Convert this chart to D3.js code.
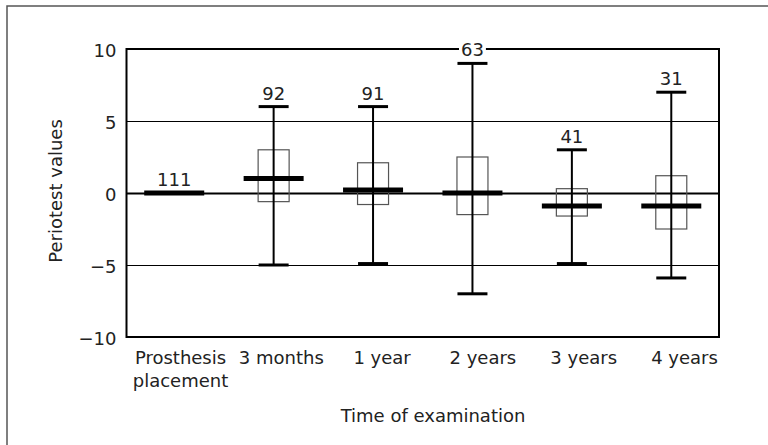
<!DOCTYPE html>
<html>
<head>
<meta charset="utf-8">
<script src="https://cdn.jsdelivr.net/npm/d3@7"></script>
<style>
  body { margin: 0; background: #fff; }
  svg { display: block; }
</style>
</head>
<body>
<svg id="chart" width="768" height="445"></svg>
<script>
// Periotest values by time of examination

var categories = ["Prosthesis\nplacement", "3 months", "1 year", "2 years", "3 years", "4 years"];
var counts = [111, 92, 91, 63, 41, 31];
var medians = [0, 1, 0.2, 0, -0.9, -0.9];
var boxLow = [0, -0.6, -0.8, -1.5, -1.6, -2.5];
var boxHigh = [0, 3, 2.1, 2.5, 0.3, 1.2];
var whiskerLow = [0, -5, -4.9, -7, -4.9, -5.9];
var whiskerHigh = [0, 6, 6, 9, 3, 7];
var yTicks = [-10, -5, 0, 5, 10];
var gridTicks = [-5, 0, 5];

var FONT = "'DejaVu Sans', sans-serif";
var INK = "#222";

var rows = categories.map(function (c, i) {
  return {
    cat: c, n: counts[i], med: medians[i],
    q1: boxLow[i], q3: boxHigh[i],
    lo: whiskerLow[i], hi: whiskerHigh[i]
  };
});

var svg = d3.select("#chart");
var margin = {top: 49, right: 49, bottom: 108, left: 126.5};
var width = 768 - margin.left - margin.right;
var height = 445 - margin.top - margin.bottom;

var x = d3.scalePoint().domain(categories).range([0, width]).padding(0.48);
// tick labels sit a little right of the boxes in the original
var xLabel = d3.scalePoint().domain(categories).range([53.5, 557.5]);
var y = d3.scaleLinear().domain([-10, 10]).range([height, 0]);

svg.append("rect").attr("width", 768).attr("height", 445).attr("fill", "#fff");

// outer figure frame (top + left edges only)
svg.append("path")
  .attr("d", "M7,445V6H768")
  .attr("fill", "none")
  .attr("stroke", "#555")
  .attr("stroke-width", 1.5);

var g = svg.append("g")
  .attr("transform", "translate(" + margin.left + "," + margin.top + ")");

///////////////////////////////////////////////////////////////////////////////
// Grid lines

var grid = g.append("g")
  .call(d3.axisLeft(y).tickValues(gridTicks).tickSize(-width).tickFormat(""));
grid.select(".domain").remove();
grid.selectAll(".tick line")
  .attr("stroke", "#000")
  .attr("stroke-width", function (d) { return d === 0 ? 1.8 : 1; });

///////////////////////////////////////////////////////////////////////////////
// Boxes and whiskers

var boxW = 31, capW = 30, medW = 60;

var items = g.selectAll(".item").data(rows).enter().append("g")
  .attr("class", "item")
  .attr("transform", function (d) { return "translate(" + x(d.cat) + ",0)"; });

items.append("rect")
  .attr("x", -boxW / 2)
  .attr("y", function (d) { return y(d.q3); })
  .attr("width", boxW)
  .attr("height", function (d) { return y(d.q1) - y(d.q3); })
  .attr("fill", "none")
  .attr("stroke", "#555")
  .attr("stroke-width", 1.2);

items.append("line")
  .attr("y1", function (d) { return y(d.hi); })
  .attr("y2", function (d) { return y(d.lo); })
  .attr("stroke", "#000")
  .attr("stroke-width", 2);

items.selectAll(".cap")
  .data(function (d) { return [d.hi, d.lo]; })
  .enter().append("line")
  .attr("class", "cap")
  .attr("x1", -capW / 2).attr("x2", capW / 2)
  .attr("y1", function (v) { return y(v); })
  .attr("y2", function (v) { return y(v); })
  .attr("stroke", "#000")
  .attr("stroke-width", 3);

items.append("line")
  .attr("x1", -medW / 2).attr("x2", medW / 2)
  .attr("y1", function (d) { return y(d.med); })
  .attr("y2", function (d) { return y(d.med); })
  .attr("stroke", "#000")
  .attr("stroke-width", 5);

// plot frame
g.append("rect")
  .attr("width", width)
  .attr("height", height)
  .attr("fill", "none")
  .attr("stroke", "#000")
  .attr("stroke-width", 2);

// sample sizes above each whisker, knocked out of the frame line
var labels = g.selectAll(".count").data(rows).enter().append("g")
  .attr("class", "count")
  .attr("transform", function (d) {
    return "translate(" + x(d.cat) + "," + (y(Math.max(d.hi, d.med)) - 7) + ")";
  });
labels.append("rect")
  .attr("fill", "#fff");
labels.append("text")
  .attr("text-anchor", "middle")
  .attr("font-family", FONT)
  .attr("font-size", 18)
  .attr("fill", INK)
  .text(function (d) { return d.n; });
labels.each(function () {
  var sel = d3.select(this);
  var b = sel.select("text").node().getBBox();
  sel.select("rect")
    .attr("x", b.x - 2).attr("y", b.y + 3)
    .attr("width", b.width + 4).attr("height", b.height - 6);
});

///////////////////////////////////////////////////////////////////////////////
// Axes

var yAxis = g.append("g")
  .call(d3.axisLeft(y).tickValues(yTicks).tickSize(0).tickPadding(10));
yAxis.select(".domain").remove();
yAxis.selectAll("text")
  .attr("font-family", FONT)
  .attr("font-size", 18)
  .attr("fill", INK)
  .attr("dy", "0.42em");

var xAxis = g.append("g")
  .attr("transform", "translate(0," + height + ")")
  .call(d3.axisBottom(xLabel).tickSize(0).tickFormat(""));
xAxis.select(".domain").remove();
xAxis.selectAll(".tick").append("text")
  .attr("text-anchor", "middle")
  .attr("font-family", FONT)
  .attr("font-size", 18)
  .attr("fill", INK)
  .each(function (d) {
    var t = d3.select(this);
    d.split("\n").forEach(function (line, i) {
      t.append("tspan").attr("x", 0).attr("y", 27 + i * 22.7).text(line);
    });
  });

svg.append("text")
  .attr("x", 433)
  .attr("y", 422)
  .attr("text-anchor", "middle")
  .attr("font-family", FONT)
  .attr("font-size", 18)
  .attr("fill", INK)
  .text("Time of examination");

svg.append("text")
  .attr("transform", "translate(62,191) rotate(-90)")
  .attr("text-anchor", "middle")
  .attr("font-family", FONT)
  .attr("font-size", 18)
  .attr("fill", INK)
  .text("Periotest values");
</script>
</body>
</html>
